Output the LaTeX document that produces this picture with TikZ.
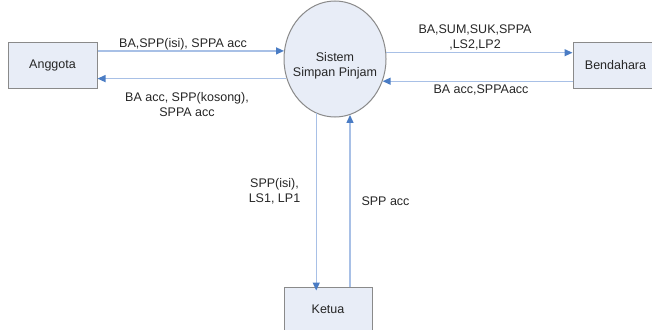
\documentclass[tikz,border=0pt]{standalone}
\usepackage{fontspec}
\setmainfont{Liberation Sans}
\usetikzlibrary{arrows.meta,shapes.geometric}
\definecolor{flowline}{HTML}{A8C0E6}
\definecolor{flowtip}{HTML}{4A7CC4}
\definecolor{boxfill}{HTML}{E8EDF7}
\definecolor{boxedge}{HTML}{8A8A8A}
\definecolor{inktext}{HTML}{262626}
\tikzset{
  entity/.style={draw=boxedge, fill=boxfill, line width=1pt, minimum width=89pt,
    minimum height=45pt, inner sep=0pt, text=inktext},
  process/.style={ellipse, draw=boxedge, fill=boxfill, line width=1pt,
    minimum width=102pt, minimum height=116pt, inner sep=0pt},
  flow/.style={draw=flowline, line width=1.3pt,
    -{Triangle[length=8pt,width=7pt,color=flowtip]}},
  lbl/.style={text=inktext, inner sep=0pt, align=center},
}
\begin{document}
\begin{tikzpicture}[x=1pt, y=-1pt, font=\fontsize{12.5}{15}\selectfont]
\useasboundingbox (0,0) rectangle (652,329);

% entities and the process
\node[entity] (ang) at (52.5,65.5) {Anggota};
\node[entity, minimum width=85pt] (ben) at (615.5,65.5) {Bendahara};
\node[entity, minimum width=88pt, minimum height=44pt] (ket) at (328,309) {Ketua};
\node[process] (sys) at (335,59) {};
\node[lbl] (sysl) at (335,66) {Sistem\\Simpan Pinjam};

% data flows
\draw[flow] (ang.east |- sys.171) -- (sys.171);
\draw[flow] (sys.202.7) -- (ang.east |- sys.202.7);
\draw[flow] (sys.7.9) -- (ben.west |- sys.7.9);
\draw[flow] (ben.west |- sys.335) -- (sys.335);
\draw[flow] (sys.251.6) -- ([yshift=-4pt]ket.north -| sys.251.6);
\draw[flow] (ket.north -| sys.285.1) -- (sys.285.1);

% flow labels
\node[lbl] (l1) at (183,44) {BA,SPP(isi), SPPA acc};
\node[lbl] (l2) at (187,104.5) {BA acc, SPP(kosong),\\SPPA acc};
\node[lbl] (l3) at (475,37.5) {BA,SUM,SUK,SPPA\\,LS2,LP2};
\node[lbl] (l4) at (481,90) {BA acc,SPPAacc};
\node[lbl] (l5) at (274.5,191.5) {SPP(isi),\\LS1, LP1};
\node[lbl] (l6) at (385.5,201) {SPP acc};
\end{tikzpicture}
\end{document}
